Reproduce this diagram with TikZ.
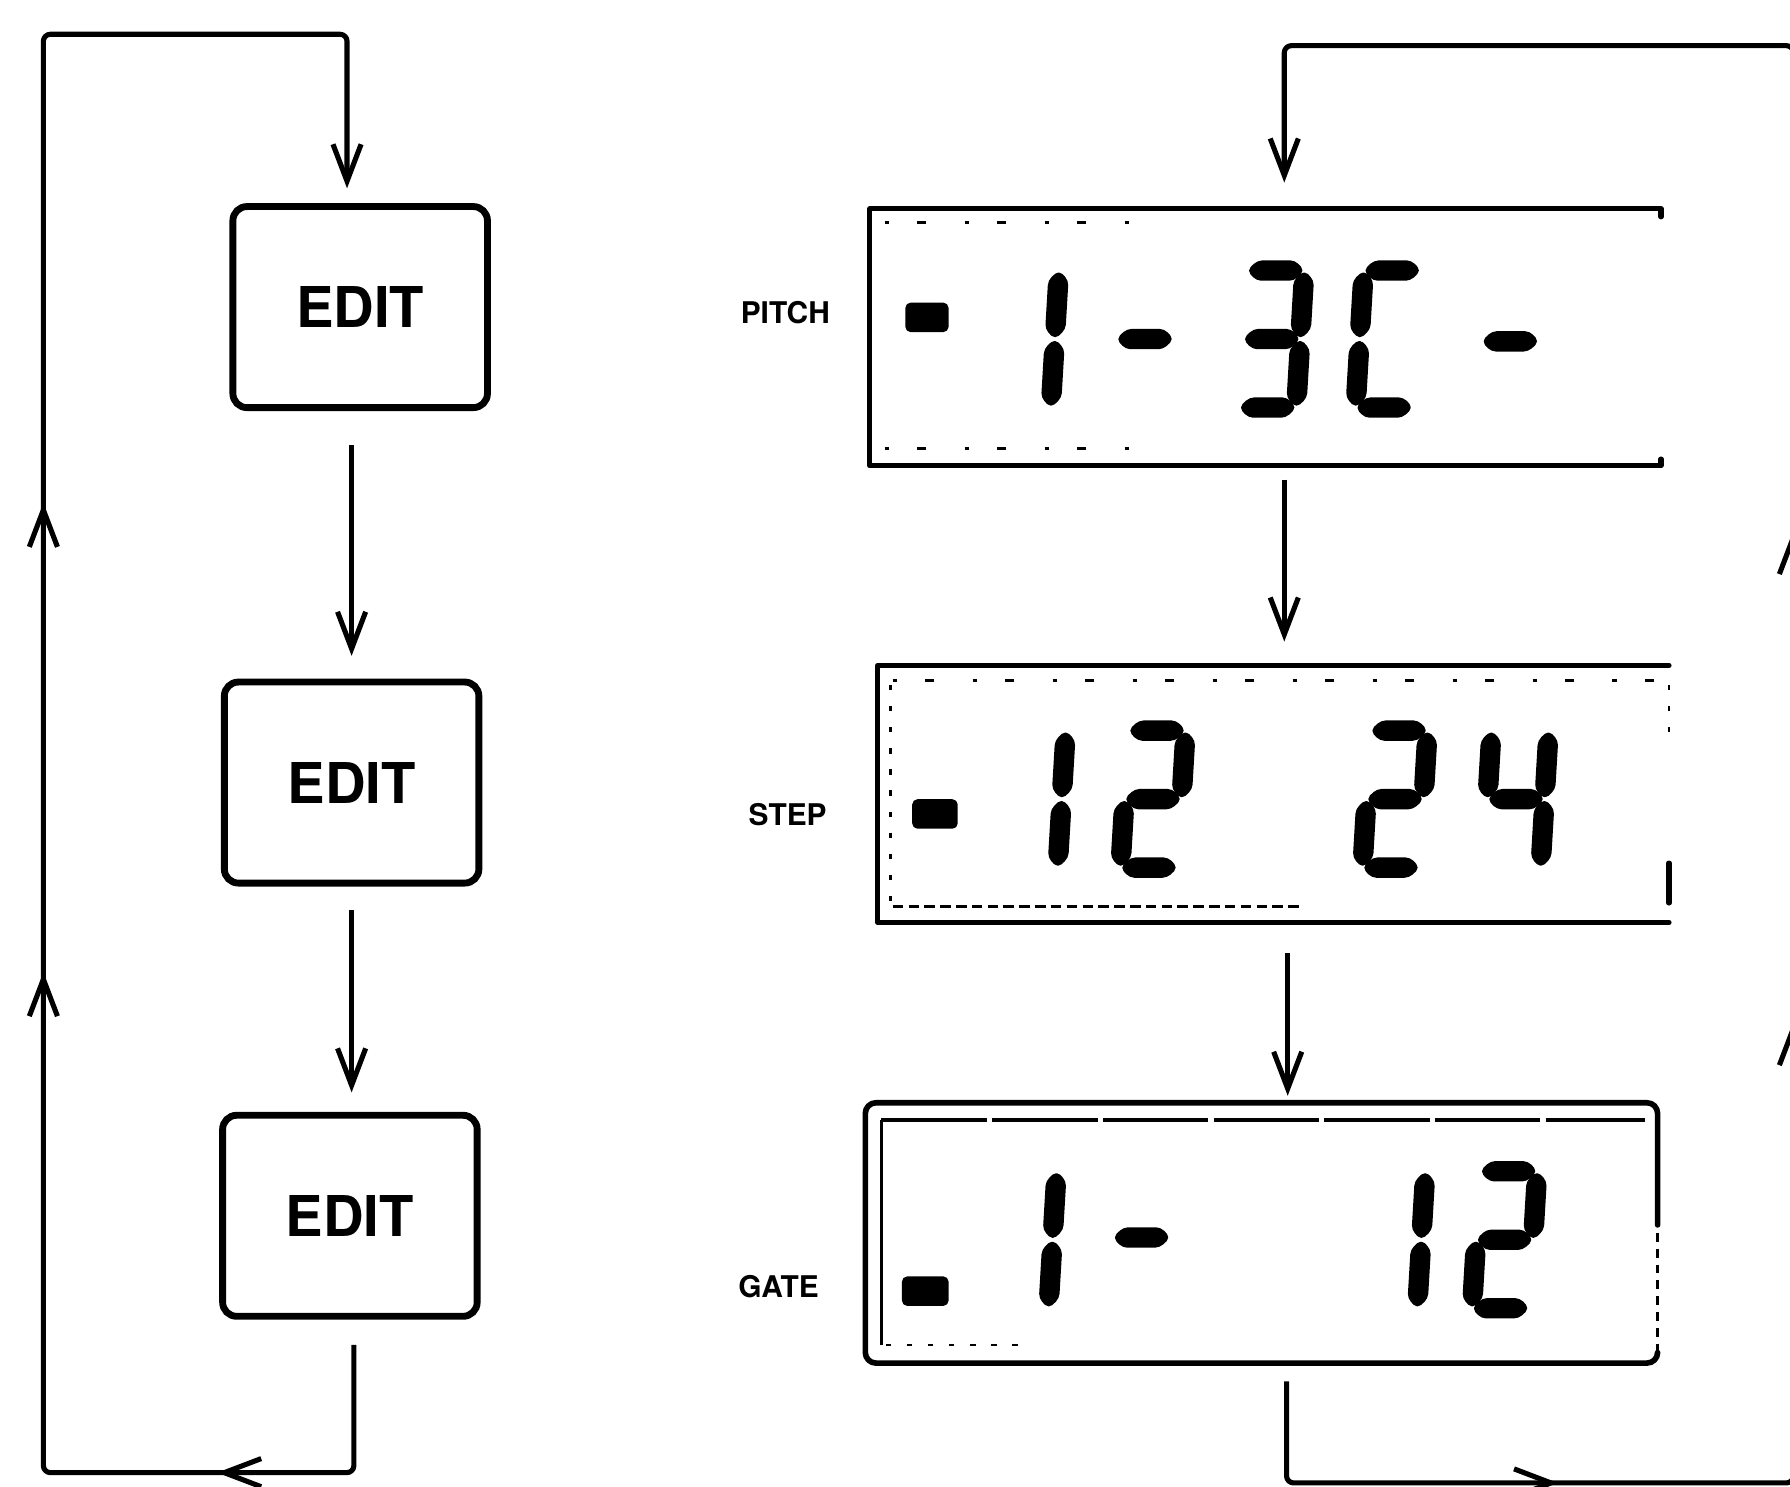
\documentclass[tikz,border=0pt]{standalone}
\usepackage{fontspec}
\newfontfamily\heros{TeX Gyre Heros}
\usetikzlibrary{arrows.meta,calc,decorations.markings}

% seven-segment cell: 66 wide, 136 high, segment thickness 16, origin at bottom left
\newcommand\lcdsega{\fill[seg] (9,-128) -- (17,-136) -- (49,-136) -- (57,-128) -- (49,-120) -- (17,-120) -- cycle;}
\newcommand\lcdsegg{\fill[seg] (9,-68) -- (17,-76) -- (49,-76) -- (57,-68) -- (49,-60) -- (17,-60) -- cycle;}
\newcommand\lcdsegd{\fill[seg] (9,-8) -- (17,-16) -- (49,-16) -- (57,-8) -- (49,0) -- (17,0) -- cycle;}
\newcommand\lcdsegf{\fill[seg] (8,-69) -- (16,-77) -- (16,-119) -- (8,-127) -- (0,-119) -- (0,-77) -- cycle;}
\newcommand\lcdsege{\fill[seg] (8,-9) -- (16,-17) -- (16,-59) -- (8,-67) -- (0,-59) -- (0,-17) -- cycle;}
\newcommand\lcdsegb{\fill[seg] (58,-69) -- (66,-77) -- (66,-119) -- (58,-127) -- (50,-119) -- (50,-77) -- cycle;}
\newcommand\lcdsegc{\fill[seg] (58,-9) -- (66,-17) -- (66,-59) -- (58,-67) -- (50,-59) -- (50,-17) -- cycle;}
% #1,#2: bottom left corner of the cell, #3: lit segments
\newcommand\lcddigit[3]{%
  \begin{scope}[shift={(#1,#2)},xslant=0.0588]
    \foreach \s in {#3}{\csname lcdseg\s\endcsname}
  \end{scope}}

\tikzset{
  arrowV/.tip={Straight Barb[length=21pt,width=16pt]},
  wire/.style={line width=2.9pt,line join=round},
  editbox/.style={draw,line width=3.9pt,rounded corners=8pt,
    minimum width=5.09cm,minimum height=4.02cm,inner sep=0pt,outer sep=0pt,
    font=\heros\bfseries\fontsize{32}{36}\selectfont},
  lcdpanel/.style={inner sep=0pt,outer sep=0pt,minimum width=15.82cm,minimum height=5.14cm},
  tag/.style={font=\heros\bfseries\fontsize{17}{18}\selectfont,inner sep=0pt},
  seg/.style={fill=black,draw=black,line width=1.2pt,line join=round,rounded corners=2.5pt},
  frame/.style={line width=2.9pt,line cap=round,line join=round},
  innerdots/.style={line width=1.3pt,dash pattern=on 3pt off 9pt},
  sparsedots/.style={line width=1.5pt,dash pattern=on 2.5pt off 16pt on 5pt off 22pt},
}

\begin{document}
\begin{tikzpicture}[x=0.022832cm,y=-0.022832cm]
\useasboundingbox (0,0) rectangle (1568,1302);
\clip (0,0) rectangle (1568,1302);

% ---------- EDIT key sequence ----------
\node[editbox] (edit1) at (315.5,269) {EDIT};
\node[editbox] (edit2) at (308,685.5) {EDIT};
\node[editbox] (edit3) at (306.5,1065) {EDIT};

\draw[wire,-{arrowV},shorten <=21.4pt,shorten >=14.9pt]
  (edit1.south -| edit2.north) -- (edit2.north);
\draw[wire,-{arrowV},shorten <=15.3pt,shorten >=13pt]
  (edit2.south) -- (edit3.north -| edit2.south);

\draw[wire,rounded corners=4pt,-{arrowV},postaction={decorate},
  decoration={markings,
    mark=at position 148.8pt with {\arrow{arrowV}},
    mark=at position 530.7pt with {\arrow{arrowV}},
    mark=at position 797.7pt with {\arrow{arrowV}}}]
  ($(edit3.south)+(3.5,25)$) -- (310,1290) -- (38,1290) -- (38,30)
  -- (304,30) -- ($(edit1.north)+(-11.5,-16)$);

% ---------- display panels ----------
\node[lcdpanel] (disp1) at (1108.5,295.5) {};
\node[lcdpanel] (disp2) at (1115.5,695.5) {};
\node[lcdpanel,minimum height=5.21cm] (disp3) at (1105,1080) {};

\node[tag] (pitch) at (688,274) {PITCH};
\node[tag] (lblstep) at (690,714) {STEP};
\node[tag] (gate) at (682,1127) {GATE};

% panel 1 frame (open on the right)
\draw[frame] ($(disp1.north east)+(0,7)$) -- (disp1.north east) -- (disp1.north west)
  -- (disp1.south west) -- (disp1.south east) -- ($(disp1.south east)+(0,-6)$);
\draw[sparsedots] (775,195) -- (1000,195);
\draw[sparsedots] (775,393) -- (1010,393);

% panel 2 frame
\draw[frame] (disp2.north east) -- (disp2.north west) -- (disp2.south west) -- (disp2.south east);
\draw[frame] (1462,756) -- (1462,791);
\draw[innerdots] (1462,600) -- (1462,650);
\draw[sparsedots] (782,596) -- (1450,596);
\draw[innerdots,line width=1.8pt,dash pattern=on 6pt off 3pt] (782,794) -- (1140,794);
\draw[innerdots] (780,600) -- (780,790);

% panel 3 frame (doubled top)
\draw[frame,line width=3.2pt,rounded corners=6pt] (1452,1073) -- (1452,966) -- (758,966)
  -- (758,1194) -- (1452,1194) -- (1452,1185);
\draw[innerdots,line width=1.6pt,dash pattern=on 5pt off 4pt] (1452,1080) -- (1452,1183);
\draw[line width=2pt,dash pattern=on 60pt off 3pt] (772,981) -- (1441,981);
\draw[line width=1.8pt] (772,981) -- (772,1178);
\draw[innerdots] (776,1178) -- (900,1178);

% ---------- panel contents ----------
% PITCH:  1-3C-
\fill[seg] (794,266) rectangle (830,290);
\lcddigit{862}{365}{b,c}
\lcddigit{966}{365}{g}
\lcddigit{1077}{365}{a,b,c,d,g}
\lcddigit{1179}{365}{a,d,e,f}
\lcddigit{1286}{367}{g}

% STEP:  12 24
\fill[seg] (800,701) rectangle (838,725);
\lcddigit{868}{768}{b,c}
\lcddigit{973}{768}{a,b,g,e,d}
\lcddigit{1185}{768}{a,b,g,e,d}
\lcddigit{1291}{768}{f,b,g,c}

% GATE:  1-  12
\fill[seg] (791,1119) rectangle (830,1143);
\lcddigit{860}{1154}{b,c}
\lcddigit{963}{1152}{g}
\lcddigit{1183}{1154}{b,c}
\lcddigit{1281}{1154}{a,b,g,e,d}

% ---------- display sequence connectors ----------
\coordinate (rcol) at (1125,0);
\coordinate (rcolb) at (1128,0);
\draw[wire,-{arrowV},shorten <=7.8pt,shorten >=13.6pt]
  (disp1.south -| rcol) -- (disp2.north -| rcol);
\draw[wire,-{arrowV},shorten <=17.5pt,shorten >=3.9pt]
  (disp2.south -| rcolb) -- (disp3.north -| rcolb);

\draw[wire,rounded corners=4pt,-{arrowV},postaction={decorate},
  decoration={markings,
    mark=at position 210.5pt with {\arrow{arrowV}},
    mark=at position 605.4pt with {\arrow{arrowV}},
    mark=at position 884.8pt with {\arrow{arrowV}}}]
  ($(disp3.south)+(22,16)$) -- (1127,1299) -- (1571,1299) -- (1571,40)
  -- (1125,40) -- ($(disp1.north)+(16.5,-23)$);
\end{tikzpicture}
\end{document}
